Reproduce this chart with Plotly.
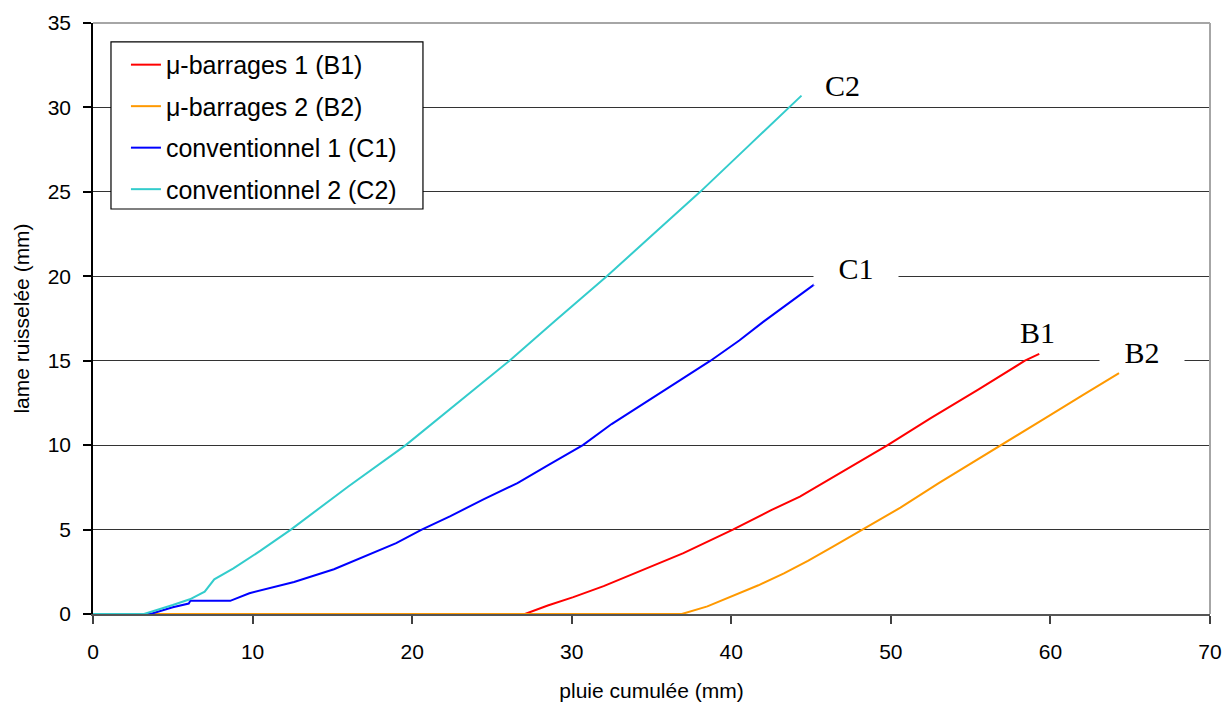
import plotly.graph_objects as go

# ---- data ----
b1_x = [0, 27.07, 28.5, 30.1, 32.0, 33.9, 37.0, 40.1, 42.5, 44.3, 46.8, 49.8, 52.5, 55.5, 58.4, 59.3]
b1_y = [0, 0, 0.5, 1.0, 1.65, 2.4, 3.6, 5.0, 6.15, 6.95, 8.35, 10.0, 11.6, 13.3, 15.0, 15.4]

b2_x = [0, 36.9, 38.5, 40.1, 41.7, 43.3, 44.8, 46.4, 48.2, 50.6, 53.0, 56.85, 59.5, 62.0, 64.3]
b2_y = [0, 0, 0.45, 1.08, 1.7, 2.4, 3.15, 4.0, 5.0, 6.3, 7.75, 10.0, 11.5, 12.95, 14.27]

c1_x = [0, 3.6, 5.0, 6.0, 6.1, 8.6, 9.8, 11.2, 12.6, 15.1, 17.2, 19.0, 20.6, 22.4, 24.5, 26.6,
        28.5, 30.7, 32.5, 34.7, 36.8, 38.7, 40.5, 42.0, 43.7, 45.25]
c1_y = [0, 0, 0.4, 0.62, 0.78, 0.78, 1.23, 1.55, 1.9, 2.65, 3.5, 4.2, 5.0, 5.8, 6.8, 7.75,
        8.8, 10.0, 11.25, 12.6, 13.85, 15.0, 16.2, 17.3, 18.5, 19.55]

c2_x = [0, 3.2, 5.0, 6.07, 7.0, 7.6, 8.8, 10.5, 12.4, 16.0, 19.6, 23.0, 26.1, 29.0, 32.2,
        35.0, 38.05, 41.0, 43.6, 44.4]
c2_y = [0, 0, 0.53, 0.87, 1.32, 2.05, 2.7, 3.75, 5.0, 7.55, 10.0, 12.6, 15.0, 17.4, 20.0,
        22.4, 25.0, 27.65, 30.0, 30.7]

series_names = ["μ-barrages 1 (B1)", "μ-barrages 2 (B2)", "conventionnel 1 (C1)", "conventionnel 2 (C2)"]
series_colors = ["#FF0000", "#FF9900", "#0000FF", "#33CCCC"]

x_ticks = [0, 10, 20, 30, 40, 50, 60, 70]
y_ticks = [0, 5, 10, 15, 20, 25, 30, 35]

# curve end labels
label_text = ["C2", "C1", "B1", "B2"]
label_x = [47.0, 47.8, 59.2, 65.75]
label_y = [31.3, 20.45, 16.65, 15.5]
label_bg = [False, True, False, True]

fig = go.Figure()
for (xs, ys), name, col in zip([(b1_x, b1_y), (b2_x, b2_y), (c1_x, c1_y), (c2_x, c2_y)],
                               series_names, series_colors):
    fig.add_trace(go.Scatter(x=xs, y=ys, mode="lines", name=name, legendgroup=name,
                             line=dict(color=col, width=2)))

for t, x, y, bg in zip(label_text, label_x, label_y, label_bg):
    fig.add_annotation(x=x, y=y, text=t, showarrow=False,
                       font=dict(family="Liberation Serif", size=30, color="black"),
                       bgcolor="white" if bg else None, width=84 if bg else None,
                       borderpad=0)

axis_font = dict(family="Liberation Sans, Arial", size=21, color="black")
fig.update_layout(
    width=1227, height=702,
    margin=dict(l=93, r=17, t=23, b=88, autoexpand=False),
    paper_bgcolor="white", plot_bgcolor="white",
    font=dict(family="Liberation Sans, Arial", color="black"),
    showlegend=True,
    legend=dict(x=0.0295, y=0.968, xanchor="left", yanchor="top",
                bgcolor="rgba(0,0,0,0)", borderwidth=0,
                font=dict(family="Liberation Sans, Arial", size=25, color="black"),
                tracegroupgap=6, itemwidth=30),
    xaxis=dict(range=[0, 70], tickvals=x_ticks, ticks="outside", ticklen=8, tickwidth=1.5,
               tickcolor="#404040", showline=True, linecolor="#555555", linewidth=2,
               showgrid=False, zeroline=False, tickfont=axis_font, automargin=False,
               ticklabelstandoff=10,
               title=dict(text="pluie cumulée (mm)", font=dict(family="Liberation Sans, Arial", size=21),
                          standoff=22)),
    yaxis=dict(range=[0, 35], tickvals=y_ticks, ticks="outside", ticklen=8, tickwidth=1.5,
               tickcolor="black", showline=True, linecolor="black", linewidth=1.5,
               showgrid=True, gridcolor="#333333", gridwidth=1.3, zeroline=False,
               tickfont=axis_font, ticklabelstandoff=8, automargin=False,
               title=dict(text="lame ruisselée (mm)", font=dict(family="Liberation Sans, Arial", size=21),
                          standoff=12)),
)
# plot-area frame (top and right)
fig.add_shape(type="line", xref="paper", yref="paper", x0=0, x1=1, y0=1, y1=1,
              line=dict(color="#A6A6A6", width=2), layer="above")
fig.add_shape(type="line", xref="paper", yref="paper", x0=1, x1=1, y0=0, y1=1,
              line=dict(color="#A6A6A6", width=2), layer="above")
# legend frame
fig.add_shape(type="rect", xref="paper", yref="paper", x0=0.0161, x1=0.2954, y0=0.6853, y1=0.9679,
              line=dict(color="black", width=1.2), fillcolor="white", layer="above")

fig.write_html("out.html", config={"displayModeBar": False},
               post_script="document.body.style.margin='0';")
